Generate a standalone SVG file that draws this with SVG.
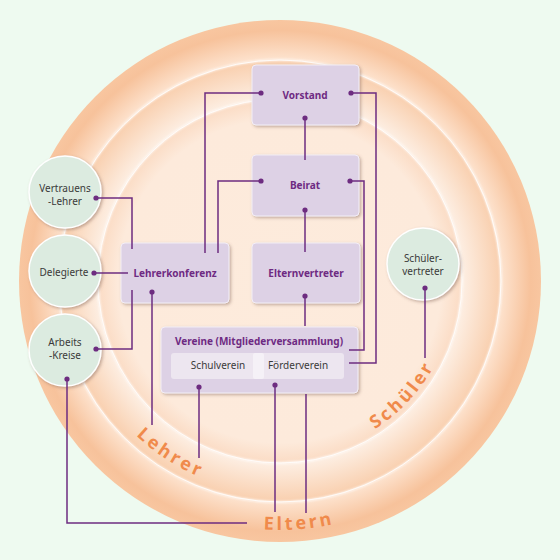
<svg xmlns="http://www.w3.org/2000/svg" xmlns:xlink="http://www.w3.org/1999/xlink" width="560" height="560" viewBox="0 0 560 560">
<defs>
<radialGradient id="rings" cx="280" cy="281" r="261" gradientUnits="userSpaceOnUse">
<stop offset="0" stop-color="#fdebdc"/>
<stop offset="0.62" stop-color="#fdeadb"/>
<stop offset="0.695" stop-color="#fbdcc5"/>
<stop offset="0.702" stop-color="#fdeee2"/>
<stop offset="0.842" stop-color="#f9d0b0"/>
<stop offset="0.852" stop-color="#fde2cd"/>
<stop offset="0.96" stop-color="#f7c29b"/>
<stop offset="1" stop-color="#f8c6a0"/>
</radialGradient>
<filter id="sh" x="-20%" y="-20%" width="140%" height="140%">
<feDropShadow dx="1.5" dy="1.5" stdDeviation="1.5" flood-color="#7a5a50" flood-opacity="0.45"/>
</filter>
<filter id="glow" x="-10%" y="-10%" width="120%" height="120%">
<feGaussianBlur stdDeviation="0.8"/>
</filter>
<path id="pL" d="M97.3,386.5 A212,212 0 0 0 261.6,492.2"/>
<path id="pE" d="M192.8,514.2 A249,249 0 0 0 402.6,497.7"/>
<path id="pS" d="M340.2,446.4 A176,176 0 0 0 449.2,329.5"/>
<style>
.box{fill:#ddd1e5;stroke:#f3eef6;stroke-width:1;filter:url(#sh)}
.circ{fill:#dcebe0;stroke:#ffffff;stroke-width:1.5;filter:url(#sh)}
.bt{font-family:"Noto Sans","DejaVu Sans",sans-serif;font-size:10px;font-weight:bold;fill:#6e2a82;text-anchor:middle}
.ct{font-family:"Noto Sans","DejaVu Sans",sans-serif;font-size:10px;fill:#3a3a3a;text-anchor:middle}
.ring{font-family:"Open Sans","Noto Sans",sans-serif;font-weight:bold;fill:#f08a4b;letter-spacing:3px;font-size:18px}
.ln{fill:none;stroke:#6d2c80;stroke-width:1.5}
.dot{fill:#6d2c80}
</style>
</defs>
<rect width="560" height="560" fill="#eefaf0"/>
<g id="background-rings">
<circle cx="280" cy="281" r="261" fill="url(#rings)"/>
<circle cx="280" cy="281" r="221" fill="none" stroke="#ffffff" stroke-width="1.6" filter="url(#glow)"/>
<circle cx="280" cy="281" r="221" fill="none" stroke="#ffffff" stroke-width="0.8"/>
<circle cx="280" cy="281" r="182" fill="none" stroke="#ffffff" stroke-width="1.6" filter="url(#glow)"/>
<circle cx="280" cy="281" r="182" fill="none" stroke="#ffffff" stroke-width="0.8"/>
</g>
<g id="ring-labels">
<text class="ring"><textPath xlink:href="#pL" href="#pL" startOffset="50%" text-anchor="middle">Lehrer</textPath></text>
<text class="ring"><textPath xlink:href="#pE" href="#pE" startOffset="50%" text-anchor="middle">Eltern</textPath></text>
<text class="ring"><textPath xlink:href="#pS" href="#pS" startOffset="50%" text-anchor="middle">Schüler</textPath></text>
</g>
<g id="vorstand"><rect class="box" x="252" y="65" width="107" height="60" rx="4"/><text class="bt" x="305" y="99">Vorstand</text></g>
<g id="beirat"><rect class="box" x="252" y="155" width="107" height="61" rx="4"/><text class="bt" x="305" y="189">Beirat</text></g>
<g id="lehrerkonferenz"><rect class="box" x="121" y="243" width="108" height="60" rx="4"/><text class="bt" x="175" y="277">Lehrerkonferenz</text></g>
<g id="elternvertreter"><rect class="box" x="252" y="243" width="108" height="60" rx="4"/><text class="bt" x="306" y="277">Elternvertreter</text></g>
<g id="vereine">
<rect class="box" x="161" y="327" width="197" height="66" rx="4"/>
<text class="bt" x="259" y="345">Vereine (Mitgliederversammlung)</text>
<rect x="171" y="353" width="173" height="26" rx="3" fill="#ede6f0"/>
<rect x="253" y="353" width="11" height="26" rx="2" fill="#f5f1f7"/>
<text class="ct" x="218" y="369">Schulverein</text>
<text class="ct" x="298" y="369">Förderverein</text>
</g>
<g id="vertrauenslehrer"><circle class="circ" cx="65" cy="192" r="36"/><text class="ct" x="65" y="192">Vertrauens</text><text class="ct" x="65" y="205">-Lehrer</text></g>
<g id="delegierte"><circle class="circ" cx="65" cy="271" r="36"/><text class="ct" x="64" y="276">Delegierte</text></g>
<g id="arbeitskreise"><circle class="circ" cx="65" cy="350" r="36"/><text class="ct" x="65" y="346">Arbeits</text><text class="ct" x="65" y="359">-Kreise</text></g>
<g id="schuelervertreter"><circle class="circ" cx="423" cy="264" r="36"/><text class="ct" x="423" y="262">Schüler-</text><text class="ct" x="423" y="275">vertreter</text></g>
<g id="connectors">
<polyline class="ln" points="261,93 205,93 205,253"/>
<polyline class="ln" points="261,181 218,181 218,253"/>
<polyline class="ln" points="351,93 376,93 376,363 349,363"/>
<polyline class="ln" points="350,181 364,181 364,350 349,350"/>
<line class="ln" x1="305" y1="118" x2="305" y2="160"/>
<line class="ln" x1="305" y1="210" x2="305" y2="252"/>
<line class="ln" x1="305" y1="296" x2="305" y2="326"/>
<polyline class="ln" points="96,198 132,198 132,249"/>
<line class="ln" x1="94" y1="273" x2="128" y2="273"/>
<polyline class="ln" points="96,349 132,349 132,290"/>
<line class="ln" x1="152" y1="292" x2="152" y2="425"/>
<line class="ln" x1="199" y1="387" x2="199" y2="458"/>
<line class="ln" x1="275" y1="385" x2="275" y2="512"/>
<line class="ln" x1="306" y1="394" x2="306" y2="513"/>
<polyline class="ln" points="67,379 67,523 247,523"/>
<line class="ln" x1="425" y1="288" x2="425" y2="358"/>
<circle class="dot" cx="261" cy="93" r="2.6"/>
<circle class="dot" cx="261" cy="181" r="2.6"/>
<circle class="dot" cx="351" cy="93" r="2.6"/>
<circle class="dot" cx="350" cy="181" r="2.6"/>
<circle class="dot" cx="305" cy="118" r="2.6"/>
<circle class="dot" cx="305" cy="210" r="2.6"/>
<circle class="dot" cx="305" cy="296" r="2.6"/>
<circle class="dot" cx="96" cy="198" r="2.6"/>
<circle class="dot" cx="94" cy="273" r="2.6"/>
<circle class="dot" cx="96" cy="349" r="2.6"/>
<circle class="dot" cx="152" cy="292" r="2.6"/>
<circle class="dot" cx="199" cy="387" r="2.6"/>
<circle class="dot" cx="275" cy="385" r="2.6"/>
<circle class="dot" cx="67" cy="379" r="2.6"/>
<circle class="dot" cx="425" cy="288" r="2.6"/>
</g>
</svg>
